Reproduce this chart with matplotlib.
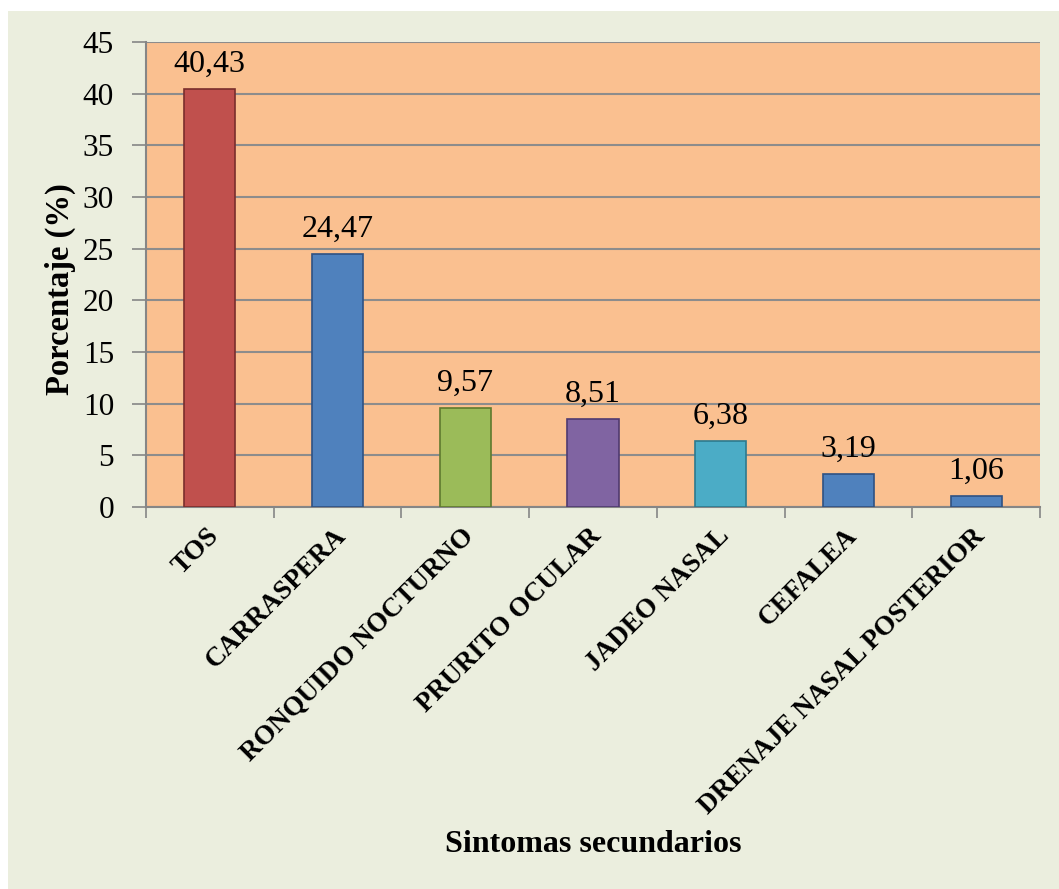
import matplotlib
matplotlib.use("Agg")
import matplotlib.pyplot as plt
import matplotlib.transforms as mtransforms
from matplotlib.patches import Rectangle
import numpy as np

# Síntomas secundarios (%)
sintomas = ["TOS", "CARRASPERA", "RONQUIDO NOCTURNO", "PRURITO OCULAR",
            "JADEO NASAL", "CEFALEA", "DRENAJE NASAL POSTERIOR"]
porcentaje = [40.43, 24.47, 9.57, 8.51, 6.38, 3.19, 1.06]
etiquetas = ["40,43", "24,47", "9,57", "8,51", "6,38", "3,19", "1,06"]
yticks = [0, 5, 10, 15, 20, 25, 30, 35, 40, 45]

colores = ["#C0504D", "#4F81BD", "#9BBB59", "#8064A2", "#4BACC6", "#4F81BD", "#4F81BD"]
bordes = ["#7A2E2C", "#2F5283", "#5E7A2E", "#4F3A70", "#2C7A8E", "#2F5283", "#2F5283"]

plt.rcParams["font.family"] = ["Liberation Serif", "DejaVu Serif"]

fig = plt.figure(figsize=(10.59, 8.89), dpi=100, facecolor="white")
# light green chart area (small white strip top/left like the original)
fig.patches.append(Rectangle((8 / 1059, 0), 1, 1 - 11 / 889, transform=fig.transFigure,
                             facecolor="#EBEEDE", edgecolor="none", zorder=-1))

ax = fig.add_axes([146 / 1059, 1 - 507 / 889, (1040 - 146) / 1059, (507 - 42) / 889])
ax.set_facecolor("#FAC090")

x = np.arange(len(sintomas))
ax.bar(x, porcentaje, width=0.4, color=colores, edgecolor=bordes, linewidth=1.2, zorder=3)
for xi, v, t in zip(x, porcentaje, etiquetas):
    ax.text(xi, v + 1.0, t, ha="center", va="bottom", fontsize=23, zorder=4)

ax.set_xlim(-0.5, len(sintomas) - 0.5)
ax.set_ylim(0, 45)
ax.set_yticks(yticks)
ax.tick_params(axis="y", labelsize=22.5, length=10, color="#868686", width=1.2, pad=13)
ax.grid(axis="y", color="#8C8C8C", linewidth=1.5, zorder=1)

ax.set_xticks(x)
ax.set_xticklabels(sintomas, rotation=45, ha="right", rotation_mode="anchor",
                   fontsize=19.5, fontweight="bold")
ax.tick_params(axis="x", which="major", length=0, pad=12)
# nudge rotated labels a few pixels left
shift = mtransforms.ScaledTranslation(-4 / 100, 0, fig.dpi_scale_trans)
for lbl in ax.get_xticklabels():
    lbl.set_transform(lbl.get_transform() + shift)
ax.set_xticks(np.arange(-0.5, len(sintomas), 1), minor=True)
ax.tick_params(axis="x", which="minor", length=8, color="#868686", width=1.2)

for s in ["top", "right"]:
    ax.spines[s].set_visible(False)
for s in ["left", "bottom"]:
    ax.spines[s].set_color("#868686")
    ax.spines[s].set_linewidth(1.5)

fig.text(60 / 1059, 1 - 289 / 889, "Porcentaje (%)", rotation=90, ha="center", va="center",
         fontsize=23.5, fontweight="bold")
fig.text(593 / 1059, 1 - 845 / 889, "Sintomas secundarios", ha="center", va="center",
         fontsize=23, fontweight="bold")

fig.savefig("out.png", dpi=100, facecolor=fig.get_facecolor())
